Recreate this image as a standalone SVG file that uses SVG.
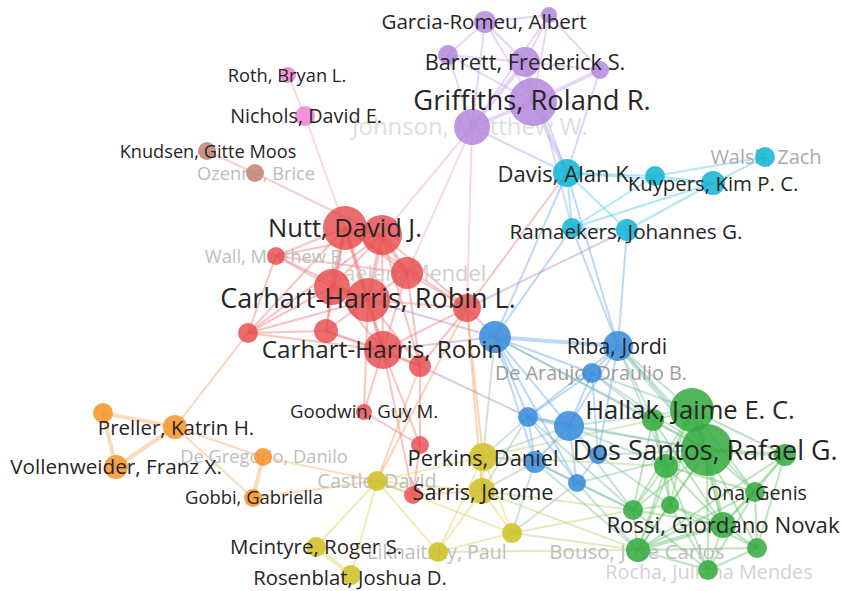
<svg xmlns="http://www.w3.org/2000/svg" width="842" height="591" viewBox="0 0 842 591">
<style>
text{font-family:"Open Sans","DejaVu Sans",sans-serif;text-anchor:middle;fill:#262626}
text.f{fill:#bdbdbd}
line{stroke-linecap:round;fill:none;stroke-width:2;stroke-opacity:.45}
.er{stroke:#f07a78}.ep{stroke:#c9a3ea}.ek{stroke:#f3a3c8}.eb{stroke:#e0a090}
.ec{stroke:#55c8e6}.eu{stroke:#6ea8ea}.eg{stroke:#6cc46f}.ey{stroke:#e0d560}
.eo{stroke:#f9b06a}.eug{stroke:#7fbfb0}.eyg{stroke:#b9d37a}.epu{stroke:#a9a6ee}
.eru{stroke:#b08ac8}.ery{stroke:#f6a060}.eyu{stroke:#9cc0a0}
.t{stroke-width:4}
.np{fill:#b487dc;fill-opacity:.85}.nk{fill:#ee8ad6;fill-opacity:.9}.nb{fill:#c4897a;fill-opacity:.9}
.nc{fill:#16b6d6;fill-opacity:.88}.nr{fill:#e84a4c;fill-opacity:.82}.nu{fill:#3a8ddd;fill-opacity:.88}
.ng{fill:#33aa3d;fill-opacity:.85}.ny{fill:#d0c228;fill-opacity:.88}.no{fill:#f7962c;fill-opacity:.88}
</style>
<g id="edges">
<line class="ek" x1="288" y1="75" x2="305" y2="116"/>
<line class="ek" x1="305" y1="116" x2="345" y2="228"/>
<line class="eb" x1="207" y1="151" x2="255" y2="173"/>
<line class="eb" x1="255" y1="173" x2="382" y2="235"/>
<line class="ep" x1="485" y1="22" x2="549" y2="15"/>
<line class="ep" x1="485" y1="22" x2="525" y2="62"/>
<line class="ep" x1="485" y1="22" x2="533" y2="102"/>
<line class="ep" x1="485" y1="22" x2="472" y2="127"/>
<line class="ep" x1="485" y1="22" x2="448" y2="55"/>
<line class="ep" x1="549" y1="15" x2="525" y2="62"/>
<line class="ep" x1="549" y1="15" x2="533" y2="102"/>
<line class="ep" x1="549" y1="15" x2="600" y2="70"/>
<line class="ep" x1="549" y1="15" x2="472" y2="127"/>
<line class="ep" x1="448" y1="55" x2="525" y2="62"/>
<line class="ep" x1="448" y1="55" x2="533" y2="102"/>
<line class="ep" x1="448" y1="55" x2="472" y2="127"/>
<line class="ep t" x1="525" y1="62" x2="533" y2="102"/>
<line class="ep t" x1="525" y1="62" x2="472" y2="127"/>
<line class="ep" x1="525" y1="62" x2="600" y2="70"/>
<line class="ep t" x1="533" y1="102" x2="600" y2="70"/>
<line class="ep t" x1="533" y1="102" x2="472" y2="127"/>
<line class="epu t" x1="533" y1="102" x2="567" y2="173"/>
<line class="epu" x1="540" y1="102" x2="572" y2="228"/>
<line class="epu" x1="525" y1="62" x2="567" y2="173"/>
<line class="epu" x1="600" y1="70" x2="567" y2="173"/>
<line class="epu" x1="472" y1="127" x2="567" y2="173"/>
<line class="ek" x1="472" y1="127" x2="382" y2="235"/>
<line class="ek" x1="472" y1="127" x2="407" y2="273"/>
<line class="ek" x1="472" y1="127" x2="467" y2="308"/>
<line class="ec" x1="567" y1="173" x2="655" y2="176"/>
<line class="ec" x1="567" y1="173" x2="713" y2="183"/>
<line class="ec" x1="567" y1="173" x2="572" y2="228"/>
<line class="ec" x1="567" y1="173" x2="627" y2="230"/>
<line class="ec" x1="655" y1="176" x2="713" y2="183"/>
<line class="ec" x1="713" y1="183" x2="765" y2="157"/>
<line class="ec" x1="655" y1="176" x2="765" y2="157"/>
<line class="ec" x1="655" y1="176" x2="572" y2="228"/>
<line class="ec" x1="713" y1="183" x2="627" y2="230"/>
<line class="ec" x1="572" y1="228" x2="627" y2="230"/>
<line class="ec" x1="713" y1="183" x2="572" y2="228"/>
<line class="eu" x1="567" y1="173" x2="618" y2="346"/>
<line class="eu" x1="572" y1="228" x2="618" y2="346"/>
<line class="eu" x1="627" y1="230" x2="618" y2="346"/>
<line class="eu" x1="572" y1="228" x2="495" y2="337"/>
<line class="eu" x1="567" y1="173" x2="495" y2="337"/>
<line class="er" x1="567" y1="173" x2="467" y2="308"/>
<line class="eru" x1="627" y1="230" x2="467" y2="308"/>
<line class="er t" x1="345" y1="228" x2="382" y2="235"/>
<line class="er" x1="345" y1="228" x2="276" y2="256"/>
<line class="er" x1="345" y1="228" x2="407" y2="273"/>
<line class="er t" x1="345" y1="228" x2="332" y2="287"/>
<line class="er t" x1="345" y1="228" x2="368" y2="300"/>
<line class="er" x1="345" y1="228" x2="467" y2="308"/>
<line class="er" x1="345" y1="228" x2="248" y2="333"/>
<line class="er" x1="345" y1="228" x2="326" y2="331"/>
<line class="er" x1="345" y1="228" x2="383" y2="350"/>
<line class="er" x1="382" y1="235" x2="276" y2="256"/>
<line class="er t" x1="382" y1="235" x2="407" y2="273"/>
<line class="er" x1="382" y1="235" x2="332" y2="287"/>
<line class="er t" x1="382" y1="235" x2="368" y2="300"/>
<line class="er" x1="382" y1="235" x2="467" y2="308"/>
<line class="er" x1="382" y1="235" x2="248" y2="333"/>
<line class="er" x1="382" y1="235" x2="383" y2="350"/>
<line class="er" x1="382" y1="235" x2="420" y2="366"/>
<line class="er" x1="276" y1="256" x2="332" y2="287"/>
<line class="er" x1="276" y1="256" x2="368" y2="300"/>
<line class="er" x1="276" y1="256" x2="407" y2="273"/>
<line class="er" x1="276" y1="256" x2="248" y2="333"/>
<line class="er" x1="407" y1="273" x2="368" y2="300"/>
<line class="er" x1="407" y1="273" x2="467" y2="308"/>
<line class="er" x1="407" y1="273" x2="383" y2="350"/>
<line class="er" x1="407" y1="273" x2="420" y2="366"/>
<line class="er t" x1="332" y1="287" x2="368" y2="300"/>
<line class="er" x1="332" y1="287" x2="248" y2="333"/>
<line class="er" x1="332" y1="287" x2="326" y2="331"/>
<line class="er" x1="332" y1="287" x2="383" y2="350"/>
<line class="er" x1="368" y1="300" x2="467" y2="308"/>
<line class="er" x1="368" y1="300" x2="248" y2="333"/>
<line class="er" x1="368" y1="300" x2="326" y2="331"/>
<line class="er t" x1="368" y1="300" x2="383" y2="350"/>
<line class="er" x1="368" y1="300" x2="420" y2="366"/>
<line class="er" x1="467" y1="308" x2="383" y2="350"/>
<line class="er" x1="467" y1="308" x2="420" y2="366"/>
<line class="er" x1="248" y1="333" x2="326" y2="331"/>
<line class="er" x1="248" y1="333" x2="383" y2="350"/>
<line class="er" x1="326" y1="331" x2="383" y2="350"/>
<line class="er" x1="326" y1="331" x2="420" y2="366"/>
<line class="er" x1="383" y1="350" x2="420" y2="366"/>
<line class="er" x1="383" y1="350" x2="364" y2="412"/>
<line class="er" x1="368" y1="300" x2="364" y2="412"/>
<line class="er" x1="364" y1="412" x2="420" y2="445"/>
<line class="er" x1="420" y1="366" x2="420" y2="445"/>
<line class="er" x1="383" y1="350" x2="420" y2="445"/>
<line class="er" x1="420" y1="445" x2="413" y2="495"/>
<line class="er" x1="383" y1="350" x2="413" y2="495"/>
<line class="ery" x1="248" y1="333" x2="175" y2="427"/>
<line class="eru" x1="368" y1="300" x2="495" y2="337"/>
<line class="eru" x1="467" y1="308" x2="495" y2="337"/>
<line class="eru" x1="383" y1="350" x2="495" y2="337"/>
<line class="eru" x1="420" y1="366" x2="528" y2="417"/>
<line class="ery" x1="467" y1="308" x2="483" y2="457"/>
<line class="ery" x1="467" y1="308" x2="482" y2="491"/>
<line class="ery" x1="467" y1="308" x2="377" y2="481"/>
<line class="ery" x1="420" y1="366" x2="377" y2="481"/>
<line class="ery" x1="413" y1="495" x2="377" y2="481"/>
<line class="ery" x1="413" y1="495" x2="482" y2="491"/>
<line class="eo t" x1="103" y1="413" x2="175" y2="427"/>
<line class="eo t" x1="103" y1="413" x2="116" y2="467"/>
<line class="eo t" x1="175" y1="427" x2="116" y2="467"/>
<line class="eo" x1="175" y1="427" x2="263" y2="457"/>
<line class="eo" x1="175" y1="427" x2="253" y2="498"/>
<line class="eo t" x1="263" y1="457" x2="253" y2="498"/>
<line class="eo" x1="263" y1="457" x2="377" y2="481"/>
<line class="eo" x1="253" y1="498" x2="377" y2="481"/>
<line class="ey" x1="377" y1="481" x2="316" y2="547"/>
<line class="ey" x1="377" y1="481" x2="351" y2="575"/>
<line class="ey" x1="377" y1="481" x2="438" y2="552"/>
<line class="ey" x1="377" y1="481" x2="483" y2="457"/>
<line class="ey" x1="377" y1="481" x2="482" y2="491"/>
<line class="ey" x1="377" y1="481" x2="512" y2="533"/>
<line class="ey t" x1="316" y1="547" x2="351" y2="575"/>
<line class="ey t" x1="483" y1="457" x2="482" y2="491"/>
<line class="ey" x1="483" y1="457" x2="512" y2="533"/>
<line class="ey" x1="482" y1="491" x2="512" y2="533"/>
<line class="ey" x1="482" y1="491" x2="438" y2="552"/>
<line class="ey" x1="483" y1="457" x2="438" y2="552"/>
<line class="ey" x1="438" y1="552" x2="512" y2="533"/>
<line class="eyg" x1="512" y1="533" x2="638" y2="550"/>
<line class="eyg" x1="512" y1="533" x2="633" y2="510"/>
<line class="eyg" x1="482" y1="491" x2="633" y2="510"/>
<line class="eyg" x1="482" y1="491" x2="638" y2="550"/>
<line class="eyg" x1="483" y1="457" x2="653" y2="420"/>
<line class="eyg" x1="483" y1="457" x2="666" y2="466"/>
<line class="eyg" x1="438" y1="552" x2="638" y2="550"/>
<line class="eyu" x1="483" y1="457" x2="528" y2="417"/>
<line class="eyu" x1="483" y1="457" x2="569" y2="426"/>
<line class="eyu" x1="483" y1="457" x2="535" y2="462"/>
<line class="eyu" x1="482" y1="491" x2="535" y2="462"/>
<line class="eyu" x1="482" y1="491" x2="528" y2="417"/>
<line class="eyu" x1="483" y1="457" x2="495" y2="337"/>
<line class="eyu" x1="512" y1="533" x2="535" y2="462"/>
<line class="eyu" x1="512" y1="533" x2="577" y2="483"/>
<line class="eu t" x1="495" y1="337" x2="618" y2="346"/>
<line class="eu" x1="495" y1="337" x2="592" y2="373"/>
<line class="eu" x1="495" y1="337" x2="528" y2="417"/>
<line class="eu" x1="495" y1="337" x2="569" y2="426"/>
<line class="eu" x1="495" y1="337" x2="535" y2="462"/>
<line class="eu" x1="495" y1="337" x2="577" y2="483"/>
<line class="eu" x1="618" y1="346" x2="592" y2="373"/>
<line class="eu" x1="618" y1="346" x2="569" y2="426"/>
<line class="eu" x1="618" y1="346" x2="528" y2="417"/>
<line class="eu" x1="618" y1="346" x2="598" y2="455"/>
<line class="eu" x1="592" y1="373" x2="528" y2="417"/>
<line class="eu" x1="592" y1="373" x2="569" y2="426"/>
<line class="eu" x1="592" y1="373" x2="598" y2="455"/>
<line class="eu t" x1="528" y1="417" x2="569" y2="426"/>
<line class="eu" x1="528" y1="417" x2="535" y2="462"/>
<line class="eu" x1="569" y1="426" x2="535" y2="462"/>
<line class="eu" x1="569" y1="426" x2="598" y2="455"/>
<line class="eu" x1="569" y1="426" x2="577" y2="483"/>
<line class="eu" x1="535" y1="462" x2="577" y2="483"/>
<line class="eu" x1="598" y1="455" x2="577" y2="483"/>
<line class="eu" x1="528" y1="417" x2="577" y2="483"/>
<line class="eug" x1="618" y1="346" x2="692" y2="410"/>
<line class="eug t" x1="618" y1="346" x2="707" y2="450"/>
<line class="eug" x1="618" y1="346" x2="653" y2="420"/>
<line class="eug" x1="618" y1="346" x2="666" y2="466"/>
<line class="eug" x1="618" y1="346" x2="755" y2="492"/>
<line class="eug" x1="592" y1="373" x2="692" y2="410"/>
<line class="eug" x1="592" y1="373" x2="707" y2="450"/>
<line class="eug" x1="592" y1="373" x2="653" y2="420"/>
<line class="eug" x1="569" y1="426" x2="707" y2="450"/>
<line class="eug" x1="569" y1="426" x2="692" y2="410"/>
<line class="eug" x1="569" y1="426" x2="633" y2="510"/>
<line class="eug" x1="569" y1="426" x2="666" y2="466"/>
<line class="eug" x1="528" y1="417" x2="633" y2="510"/>
<line class="eug" x1="528" y1="417" x2="707" y2="450"/>
<line class="eug" x1="535" y1="462" x2="633" y2="510"/>
<line class="eug" x1="535" y1="462" x2="638" y2="550"/>
<line class="eug" x1="577" y1="483" x2="638" y2="550"/>
<line class="eug" x1="577" y1="483" x2="633" y2="510"/>
<line class="eug" x1="577" y1="483" x2="707" y2="450"/>
<line class="eug" x1="598" y1="455" x2="707" y2="450"/>
<line class="eug" x1="598" y1="455" x2="670" y2="505"/>
<line class="eug" x1="495" y1="337" x2="707" y2="450"/>
<line class="eug" x1="495" y1="337" x2="653" y2="420"/>
<line class="eg t" x1="692" y1="410" x2="707" y2="450"/>
<line class="eg" x1="692" y1="410" x2="653" y2="420"/>
<line class="eg" x1="692" y1="410" x2="666" y2="466"/>
<line class="eg" x1="692" y1="410" x2="785" y2="455"/>
<line class="eg" x1="692" y1="410" x2="755" y2="492"/>
<line class="eg" x1="692" y1="410" x2="633" y2="510"/>
<line class="eg" x1="692" y1="410" x2="670" y2="505"/>
<line class="eg" x1="692" y1="410" x2="723" y2="525"/>
<line class="eg" x1="692" y1="410" x2="638" y2="550"/>
<line class="eg" x1="707" y1="450" x2="653" y2="420"/>
<line class="eg t" x1="707" y1="450" x2="666" y2="466"/>
<line class="eg t" x1="707" y1="450" x2="785" y2="455"/>
<line class="eg" x1="707" y1="450" x2="755" y2="492"/>
<line class="eg" x1="707" y1="450" x2="633" y2="510"/>
<line class="eg" x1="707" y1="450" x2="670" y2="505"/>
<line class="eg t" x1="707" y1="450" x2="723" y2="525"/>
<line class="eg" x1="707" y1="450" x2="638" y2="550"/>
<line class="eg" x1="707" y1="450" x2="757" y2="548"/>
<line class="eg" x1="707" y1="450" x2="708" y2="570"/>
<line class="eg" x1="653" y1="420" x2="666" y2="466"/>
<line class="eg" x1="653" y1="420" x2="633" y2="510"/>
<line class="eg" x1="653" y1="420" x2="670" y2="505"/>
<line class="eg" x1="653" y1="420" x2="723" y2="525"/>
<line class="eg" x1="666" y1="466" x2="633" y2="510"/>
<line class="eg" x1="666" y1="466" x2="670" y2="505"/>
<line class="eg" x1="666" y1="466" x2="723" y2="525"/>
<line class="eg" x1="666" y1="466" x2="638" y2="550"/>
<line class="eg" x1="666" y1="466" x2="708" y2="570"/>
<line class="eg" x1="666" y1="466" x2="755" y2="492"/>
<line class="eg" x1="785" y1="455" x2="755" y2="492"/>
<line class="eg" x1="785" y1="455" x2="723" y2="525"/>
<line class="eg" x1="785" y1="455" x2="757" y2="548"/>
<line class="eg" x1="785" y1="455" x2="638" y2="550"/>
<line class="eg" x1="755" y1="492" x2="723" y2="525"/>
<line class="eg" x1="755" y1="492" x2="757" y2="548"/>
<line class="eg" x1="755" y1="492" x2="708" y2="570"/>
<line class="eg" x1="755" y1="492" x2="638" y2="550"/>
<line class="eg" x1="633" y1="510" x2="670" y2="505"/>
<line class="eg" x1="633" y1="510" x2="638" y2="550"/>
<line class="eg" x1="633" y1="510" x2="723" y2="525"/>
<line class="eg" x1="633" y1="510" x2="708" y2="570"/>
<line class="eg" x1="670" y1="505" x2="723" y2="525"/>
<line class="eg" x1="670" y1="505" x2="638" y2="550"/>
<line class="eg" x1="670" y1="505" x2="708" y2="570"/>
<line class="eg" x1="670" y1="505" x2="757" y2="548"/>
<line class="eg t" x1="723" y1="525" x2="638" y2="550"/>
<line class="eg" x1="723" y1="525" x2="757" y2="548"/>
<line class="eg" x1="723" y1="525" x2="708" y2="570"/>
<line class="eg" x1="638" y1="550" x2="708" y2="570"/>
<line class="eg" x1="638" y1="550" x2="757" y2="548"/>
<line class="eg" x1="757" y1="548" x2="708" y2="570"/>
</g>
<g id="n-johnson"><text class="f" x="470" y="126" dy=".36em" font-size="23.9" style="fill:#dedede">Johnson, Matthew W.</text><circle class="np" cx="472" cy="127" r="18"/></g>
<g id="n-ozenne"><text class="f" x="256" y="173" dy=".36em" font-size="18.3">Ozenne, Brice</text><circle class="nb" cx="255" cy="173" r="9"/></g>
<g id="n-walsh"><text class="f" x="766" y="157" dy=".36em" font-size="20" style="fill:#ababab">Walsh, Zach</text><circle class="nc" cx="765" cy="157" r="10"/></g>
<g id="n-wall"><text class="f" x="276" y="256" dy=".36em" font-size="18.3">Wall, Matthew B.</text><circle class="nr" cx="276" cy="256" r="9"/></g>
<g id="n-kaelen"><text class="f" x="408" y="273" dy=".36em" font-size="21.8" style="fill:#cfcfcf">Kaelen, Mendel</text><circle class="nr" cx="407" cy="273" r="16"/></g>
<g id="n-dearaujo"><text class="f" x="591" y="373" dy=".36em" font-size="19.8" style="fill:#9c9c9c">De Araujo, Draulio B.</text><circle class="nu" cx="592" cy="373" r="10"/></g>
<g id="n-castle"><text class="f" x="377" y="481" dy=".36em" font-size="19.9">Castle, David</text><circle class="ny" cx="377" cy="481" r="10"/></g>
<g id="n-liknaitzky"><text class="f" x="437" y="552" dy=".36em" font-size="19.6">Liknaitzky, Paul</text><circle class="ny" cx="438" cy="552" r="10"/></g>
<g id="n-degregorio"><text class="f" x="264" y="456" dy=".36em" font-size="18.3">De Gregorio, Danilo</text><circle class="no" cx="263" cy="457" r="9"/></g>
<g id="n-bouso"><text class="f" x="637" y="552" dy=".36em" font-size="20.5">Bouso, Jose Carlos</text><circle class="ng" cx="638" cy="550" r="12"/></g>
<g id="n-rocha"><text class="f" x="709" y="572" dy=".36em" font-size="19.8" style="fill:#d3d3d3">Rocha, Juliana Mendes</text><circle class="ng" cx="708" cy="570" r="10"/></g>
<g id="n-p2"><circle class="np" cx="549" cy="15" r="8"/></g>
<g id="n-p3"><circle class="np" cx="448" cy="55" r="10"/></g>
<g id="n-p5"><circle class="np" cx="600" cy="70" r="9"/></g>
<g id="n-c2"><circle class="nc" cx="655" cy="176" r="10"/></g>
<g id="n-c5"><circle class="nc" cx="572" cy="228" r="10"/></g>
<g id="n-r2"><circle class="nr" cx="382" cy="235" r="20"/></g>
<g id="n-r5"><circle class="nr" cx="332" cy="287" r="18"/></g>
<g id="n-r7"><circle class="nr" cx="467" cy="308" r="14"/></g>
<g id="n-r8"><circle class="nr" cx="248" cy="333" r="10"/></g>
<g id="n-r9"><circle class="nr" cx="326" cy="331" r="12"/></g>
<g id="n-r11"><circle class="nr" cx="420" cy="366" r="11"/></g>
<g id="n-r13"><circle class="nr" cx="420" cy="445" r="9"/></g>
<g id="n-r14"><circle class="nr" cx="413" cy="495" r="9"/></g>
<g id="n-u1"><circle class="nu" cx="495" cy="337" r="16"/></g>
<g id="n-u4"><circle class="nu" cx="528" cy="417" r="10"/></g>
<g id="n-u5"><circle class="nu" cx="569" cy="426" r="15"/></g>
<g id="n-u6"><circle class="nu" cx="535" cy="462" r="11"/></g>
<g id="n-u7"><circle class="nu" cx="598" cy="455" r="9"/></g>
<g id="n-u8"><circle class="nu" cx="577" cy="483" r="9"/></g>
<g id="n-g3"><circle class="ng" cx="653" cy="420" r="11"/></g>
<g id="n-g4"><circle class="ng" cx="666" cy="466" r="12"/></g>
<g id="n-g5"><circle class="ng" cx="785" cy="455" r="11"/></g>
<g id="n-g7"><circle class="ng" cx="633" cy="510" r="10"/></g>
<g id="n-g8"><circle class="ng" cx="670" cy="505" r="9"/></g>
<g id="n-g11"><circle class="ng" cx="757" cy="548" r="10"/></g>
<g id="n-y4"><circle class="ny" cx="512" cy="533" r="10"/></g>
<g id="n-o1"><circle class="no" cx="103" cy="413" r="10"/></g>
<g id="n-garcia"><circle class="np" cx="485" cy="22" r="11"/><text x="484" y="22" dy=".36em" font-size="20.6">Garcia-Romeu, Albert</text></g>
<g id="n-barrett"><circle class="np" cx="525" cy="62" r="15"/><text x="525" y="62" dy=".36em" font-size="21.8">Barrett, Frederick S.</text></g>
<g id="n-griffiths"><circle class="np" cx="533" cy="102" r="24"/><text x="532" y="100" dy=".36em" font-size="27.4">Griffiths, Roland R.</text></g>
<g id="n-roth"><circle class="nk" cx="288" cy="75" r="8"/><text x="287" y="75" dy=".36em" font-size="18.3">Roth, Bryan L.</text></g>
<g id="n-nichols"><circle class="nk" cx="305" cy="116" r="10"/><text x="306" y="116" dy=".36em" font-size="19.8">Nichols, David E.</text></g>
<g id="n-knudsen"><circle class="nb" cx="207" cy="151" r="9"/><text x="208" y="151" dy=".36em" font-size="18.2">Knudsen, Gitte Moos</text></g>
<g id="n-davis"><circle class="nc" cx="567" cy="173" r="14"/><text x="566" y="174" dy=".36em" font-size="22">Davis, Alan K.</text></g>
<g id="n-kuypers"><circle class="nc" cx="713" cy="183" r="12"/><text x="713" y="184" dy=".36em" font-size="20.4">Kuypers, Kim P. C.</text></g>
<g id="n-ramaekers"><circle class="nc" cx="627" cy="230" r="11"/><text x="626" y="232" dy=".36em" font-size="20.7">Ramaekers, Johannes G.</text></g>
<g id="n-goodwin"><circle class="nr" cx="364" cy="412" r="8"/><text x="364" y="411" dy=".36em" font-size="18.6">Goodwin, Guy M.</text></g>
<g id="n-riba"><circle class="nu" cx="618" cy="346" r="15"/><text x="617" y="346" dy=".36em" font-size="21.4">Riba, Jordi</text></g>
<g id="n-preller"><circle class="no" cx="175" cy="427" r="12"/><text x="176" y="428" dy=".36em" font-size="20.5">Preller, Katrin H.</text></g>
<g id="n-vollenweider"><circle class="no" cx="116" cy="467" r="12"/><text x="116" y="467" dy=".36em" font-size="20.7">Vollenweider, Franz X.</text></g>
<g id="n-gobbi"><circle class="no" cx="253" cy="498" r="9"/><text x="254" y="497" dy=".36em" font-size="18.4">Gobbi, Gabriella</text></g>
<g id="n-mcintyre"><circle class="ny" cx="316" cy="547" r="10"/><text x="316" y="547" dy=".36em" font-size="20.5">Mcintyre, Roger S.</text></g>
<g id="n-rosenblat"><circle class="ny" cx="351" cy="575" r="10"/><text x="350" y="578" dy=".36em" font-size="20.3">Rosenblat, Joshua D.</text></g>
<g id="n-perkins"><circle class="ny" cx="483" cy="457" r="14"/><text x="483" y="458" dy=".36em" font-size="21.8">Perkins, Daniel</text></g>
<g id="n-sarris"><circle class="ny" cx="482" cy="491" r="13"/><text x="483" y="492" dy=".36em" font-size="21.7">Sarris, Jerome</text></g>
<g id="n-ona"><circle class="ng" cx="755" cy="492" r="10"/><text x="757" y="493" dy=".36em" font-size="19.6">Ona, Genis</text></g>
<g id="n-rossi"><circle class="ng" cx="723" cy="525" r="13"/><text x="723" y="525" dy=".36em" font-size="22.2">Rossi, Giordano Novak</text></g>
<g id="n-nutt"><circle class="nr" cx="345" cy="228" r="22"/><text x="345" y="228" dy=".36em" font-size="25.5">Nutt, David J.</text></g>
<g id="n-carhart-l"><circle class="nr" cx="368" cy="300" r="22"/><text x="368" y="298" dy=".36em" font-size="27">Carhart-Harris, Robin L.</text></g>
<g id="n-carhart"><circle class="nr" cx="383" cy="350" r="19"/><text x="382" y="349" dy=".36em" font-size="24.3">Carhart-Harris, Robin</text></g>
<g id="n-hallak"><circle class="ng" cx="692" cy="410" r="22"/><text x="690" y="410" dy=".36em" font-size="25.6">Hallak, Jaime E. C.</text></g>
<g id="n-dossantos"><circle class="ng" cx="707" cy="450" r="26"/><text x="705" y="450" dy=".36em" font-size="26.9">Dos Santos, Rafael G.</text></g>
</svg>
